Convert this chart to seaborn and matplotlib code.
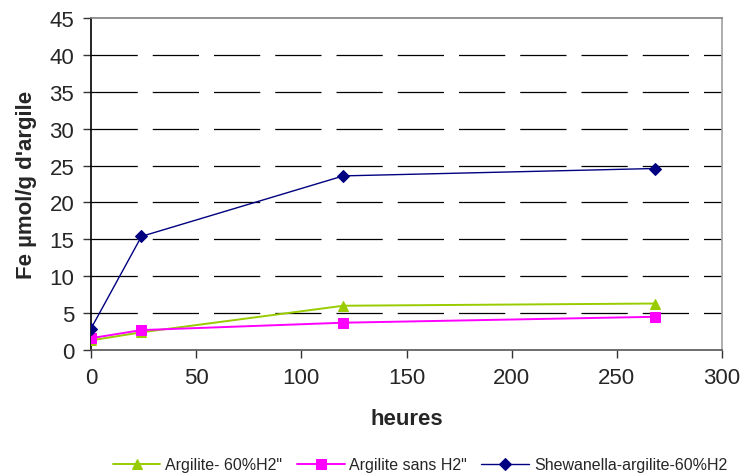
import matplotlib
matplotlib.use("Agg")
import matplotlib.pyplot as plt
import seaborn as sns
import pandas as pd

heures = [0, 24, 120, 268]
argilite_60h2 = [1.3, 2.4, 6.0, 6.3]
argilite_sans_h2 = [1.6, 2.7, 3.7, 4.5]
shewanella = [2.9, 15.4, 23.6, 24.6]
series_names = ['Argilite- 60%H2"', 'Argilite sans H2"', 'Shewanella-argilite-60%H2']
x_ticks = [0, 50, 100, 150, 200, 250, 300]
y_ticks = [0, 5, 10, 15, 20, 25, 30, 35, 40, 45]

sns.set_style("white")
plt.rcParams['font.family'] = ['Liberation Sans', 'DejaVu Sans']

rows = []
for name, vals in zip(series_names, [argilite_60h2, argilite_sans_h2, shewanella]):
    for h, v in zip(heures, vals):
        rows.append({'heures': h, 'fe': v, 'serie': name})
df = pd.DataFrame(rows)

fig = plt.figure(figsize=(7.44, 4.77), dpi=100)
ax = fig.add_axes([91/744, 1-351/477, (722-91)/744, (351-19)/477])

palette = {series_names[0]: '#99cc00', series_names[1]: '#ff00ff', series_names[2]: '#000080'}
markers = {series_names[0]: '^', series_names[1]: 's', series_names[2]: 'D'}
msizes = {series_names[0]: 7.5, series_names[1]: 6.5, series_names[2]: 6.5}

for name in series_names:
    sub = df[df['serie'] == name]
    lw = 1.0 if name == series_names[2] else 1.4
    sns.lineplot(data=sub, x='heures', y='fe', ax=ax, color=palette[name],
                 marker=markers[name], markersize=msizes[name], markeredgecolor=palette[name],
                 linewidth=lw, label=name, zorder=3)

ax.set_xlim(0, 300)
ax.set_ylim(0, 45)
ax.set_xticks(x_ticks)
ax.set_yticks(y_ticks)
ax.set_xticklabels([str(t) for t in x_ticks], fontsize=16)
ax.set_yticklabels([str(t) for t in y_ticks], fontsize=16)

for y in y_ticks[1:-1]:
    ax.axhline(y, color='black', linewidth=0.9, dashes=(37, 12), zorder=1)

ax.spines['left'].set_color('black')
ax.spines['bottom'].set_color('#555555')
ax.spines['top'].set_color('#808080')
ax.spines['right'].set_color('#a0a0a0')
for s in ax.spines.values():
    s.set_linewidth(1.2)
ax.tick_params(axis='x', direction='out', length=5.5, width=1, color='#333333', pad=7,
               bottom=True)
ax.tick_params(axis='y', direction='out', length=6, width=1, color='#333333', pad=6,
               left=True)

ax.set_xlabel('heures', fontsize=16, fontweight='bold', labelpad=14)
ax.set_ylabel("Fe µmol/g d'argile", fontsize=16, fontweight='bold', labelpad=9)

leg = ax.legend(loc='center', bbox_to_anchor=(420/744, 1-466/477), bbox_transform=fig.transFigure,
                ncol=3, frameon=False, fontsize=11.5, handlelength=3.0, columnspacing=0.9,
                handletextpad=0.3, borderaxespad=0)

fig.savefig('out.png', dpi=100)
